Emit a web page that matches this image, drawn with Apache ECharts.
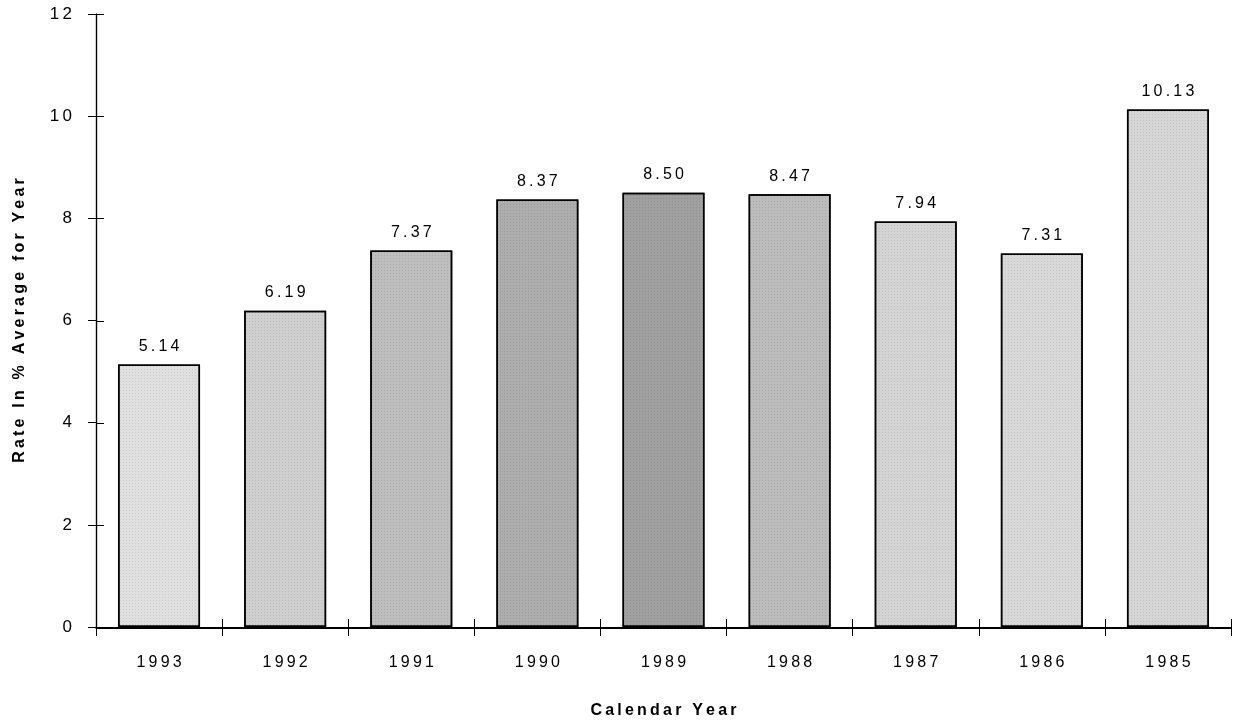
<!DOCTYPE html>
<html><head><meta charset="utf-8">
<script src="https://cdn.jsdelivr.net/npm/echarts@6/dist/echarts.min.js"></script>
<style>html,body{margin:0;padding:0;background:#fff}#c{width:1233px;height:724px}</style>
</head><body><div id="c"></div>
<script>
const categories = ['1993','1992','1991','1990','1989','1988','1987','1986','1985'];
const values = [5.14, 6.19, 7.37, 8.37, 8.50, 8.47, 7.94, 7.31, 10.13];
const shades = ['#e0e0e0','#cfcfcf','#bebebe','#adadad','#a0a0a0','#bcbcbc','#d4d4d4','#d8d8d8','#d6d6d6'];
const xTitle = 'Calendar Year';
const yTitle = 'Rate In % Average for Year';

const spread = (s, sp) => String(s).split('').join(sp);
const chart = echarts.init(document.getElementById('c'));
const font = 'Liberation Sans, Arial, sans-serif';
const tickStyle = {color: '#000', width: 1};
const gridBox = {left: 96, right: 2, top: 14, bottom: 96, containLabel: false};
chart.setOption({
  animation: false,
  backgroundColor: '#fff',
  grid: [Object.assign({}, gridBox), Object.assign({}, gridBox)],
  xAxis: [{
    type: 'category', data: categories, gridIndex: 0,
    name: spread(xTitle, '\u2009'), nameLocation: 'middle', nameGap: 76,
    nameTextStyle: {fontFamily: font, fontSize: 16, fontWeight: 'bold', color: '#000'},
    axisLine: {lineStyle: {color: '#000', width: 1.2}},
    axisTick: {show: true, length: 9, lineStyle: tickStyle},
    axisLabel: {fontFamily: font, fontSize: 16, color: '#000', margin: 28,
      formatter: v => spread(v, '\u2009')}
  }, {
    type: 'category', data: categories, gridIndex: 1, position: 'bottom',
    axisLine: {show: true, onZero: false, lineStyle: {color: '#000', width: 1.2}},
    axisTick: {show: true, inside: true, length: 9, lineStyle: tickStyle},
    axisLabel: {show: false}
  }],
  yAxis: [{
    type: 'value', min: 0, max: 12, interval: 2, gridIndex: 0,
    name: spread(yTitle, '\u2009'), nameLocation: 'middle', nameGap: 68,
    nameTextStyle: {fontFamily: font, fontSize: 16, fontWeight: 'bold', color: '#000'},
    axisLine: {show: true, lineStyle: {color: '#000', width: 1.2}},
    axisTick: {show: true, length: 8, lineStyle: tickStyle},
    splitLine: {show: false},
    axisLabel: {fontFamily: font, fontSize: 17, color: '#000', margin: 24,
      formatter: v => spread(v, '\u2009')}
  }, {
    type: 'value', min: 0, max: 12, interval: 2, gridIndex: 1, position: 'left',
    axisLine: {show: true, onZero: false, lineStyle: {color: '#000', width: 1.2}},
    axisTick: {show: true, inside: true, length: 8, lineStyle: tickStyle},
    splitLine: {show: false},
    axisLabel: {show: false}
  }],
  series: [{
    type: 'bar', barWidth: '65%', xAxisIndex: 0, yAxisIndex: 0, z: 3,
    data: values.map((v, i) => ({value: v, itemStyle: {color: shades[i]}})),
    itemStyle: {borderColor: '#000', borderWidth: 1.5,
      decal: {symbol: 'rect', symbolSize: 1, dashArrayX: [1, 2], dashArrayY: [1, 2], color: 'rgba(0,0,0,0.10)'}},
    label: {show: true, position: 'top', distance: 10, fontFamily: font, fontSize: 16, color: '#000',
      formatter: p => spread(p.value.toFixed(2), '\u2009')}
  }, {
    type: 'line', xAxisIndex: 1, yAxisIndex: 1, data: [], silent: true, showSymbol: false
  }]
});
</script></body></html>
